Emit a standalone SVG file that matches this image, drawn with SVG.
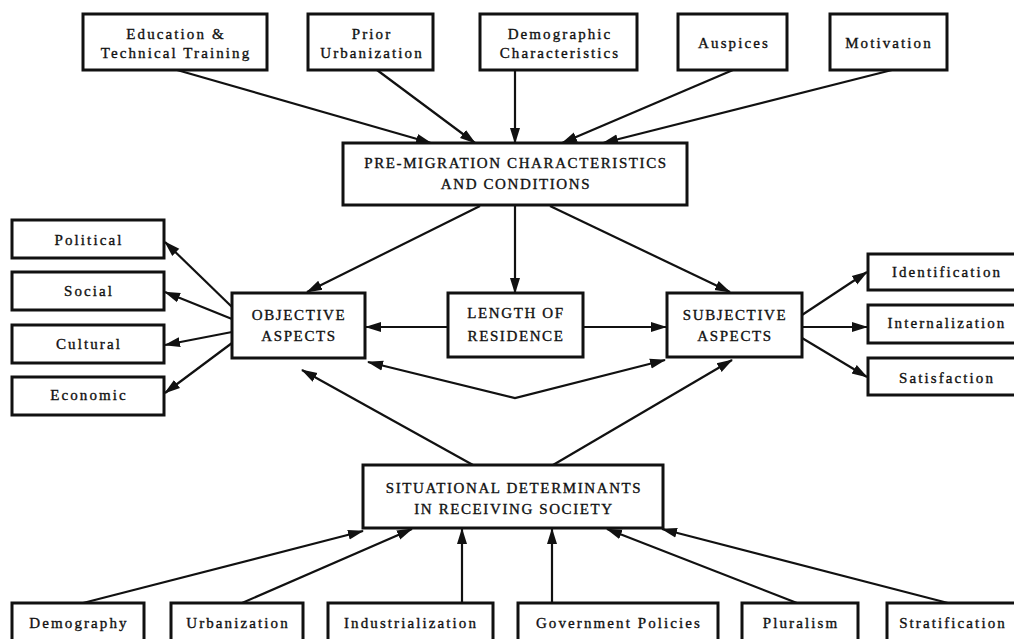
<svg xmlns="http://www.w3.org/2000/svg" width="1014" height="639" viewBox="0 0 1014 639">
<style>
.box{fill:#fff;stroke:#111;stroke-width:3}
.t{font-family:"Liberation Serif","DejaVu Serif",serif;font-size:15px;letter-spacing:2.1px;fill:#111;stroke:#111;stroke-width:0.35;text-anchor:middle}
.c{font-family:"Liberation Serif","DejaVu Serif",serif;font-size:15px;letter-spacing:1.6px;fill:#111;stroke:#111;stroke-width:0.35;text-anchor:middle}
.e{fill:none;stroke:#111;stroke-width:2.2}
</style>
<defs>
<marker id="ah" markerUnits="userSpaceOnUse" markerWidth="16" markerHeight="12" refX="15" refY="5" orient="auto-start-reverse" viewBox="0 0 16 10">
<path d="M0,0 L16,5 L0,10 Z" fill="#111"/>
</marker>
</defs>
<rect width="1014" height="639" fill="#fff"/>
<g id="connectors">
<line class="e" x1="177" y1="70" x2="431" y2="143" marker-end="url(#ah)"/>
<line class="e" x1="377" y1="70" x2="475" y2="143" marker-end="url(#ah)"/>
<line class="e" x1="515" y1="70" x2="515" y2="143" marker-end="url(#ah)"/>
<line class="e" x1="733" y1="70" x2="562" y2="143" marker-end="url(#ah)"/>
<line class="e" x1="892" y1="70" x2="603" y2="143" marker-end="url(#ah)"/>
<line class="e" x1="480" y1="206" x2="307" y2="292" marker-end="url(#ah)"/>
<line class="e" x1="515" y1="206" x2="515" y2="293" marker-end="url(#ah)"/>
<line class="e" x1="550" y1="206" x2="730" y2="292" marker-end="url(#ah)"/>
<line class="e" x1="448" y1="327" x2="366" y2="327" marker-end="url(#ah)"/>
<line class="e" x1="583" y1="327" x2="666" y2="327" marker-end="url(#ah)"/>
<line class="e" x1="232" y1="307" x2="165" y2="242" marker-end="url(#ah)"/>
<line class="e" x1="232" y1="319" x2="165" y2="292" marker-end="url(#ah)"/>
<line class="e" x1="232" y1="332" x2="165" y2="345" marker-end="url(#ah)"/>
<line class="e" x1="232" y1="343" x2="165" y2="393" marker-end="url(#ah)"/>
<line class="e" x1="802" y1="315" x2="867" y2="272" marker-end="url(#ah)"/>
<line class="e" x1="802" y1="327" x2="867" y2="327" marker-end="url(#ah)"/>
<line class="e" x1="802" y1="338" x2="867" y2="377" marker-end="url(#ah)"/>
<path class="e" d="M368,362 L515,398 L665,360" marker-start="url(#ah)" marker-end="url(#ah)"/>
<line class="e" x1="473" y1="465" x2="302" y2="370" marker-end="url(#ah)"/>
<line class="e" x1="553" y1="465" x2="732" y2="360" marker-end="url(#ah)"/>
<line class="e" x1="83" y1="603" x2="363" y2="531" marker-end="url(#ah)"/>
<line class="e" x1="242" y1="603" x2="412" y2="529" marker-end="url(#ah)"/>
<line class="e" x1="462" y1="603" x2="462" y2="529" marker-end="url(#ah)"/>
<line class="e" x1="552" y1="603" x2="552" y2="529" marker-end="url(#ah)"/>
<line class="e" x1="797" y1="603" x2="607" y2="529" marker-end="url(#ah)"/>
<line class="e" x1="948" y1="603" x2="662" y2="529" marker-end="url(#ah)"/>
</g>
<g id="edu"><rect class="box" x="83" y="14" width="184" height="56"/><text class="t" x="176" y="39">Education &amp;</text><text class="t" x="176" y="58">Technical Training</text></g>
<g id="prior"><rect class="box" x="308" y="14" width="125" height="56"/><text class="t" x="372" y="39">Prior</text><text class="t" x="372" y="58">Urbanization</text></g>
<g id="demo"><rect class="box" x="480" y="14" width="157" height="56"/><text class="t" x="560" y="39">Demographic</text><text class="t" x="560" y="58">Characteristics</text></g>
<g id="ausp"><rect class="box" x="678" y="14" width="109" height="56"/><text class="t" x="734" y="48">Auspices</text></g>
<g id="motiv"><rect class="box" x="830" y="14" width="117" height="56"/><text class="t" x="889" y="48">Motivation</text></g>
<g id="pre"><rect class="box" x="343" y="143" width="344" height="62"/><text class="c" x="516" y="168">PRE-MIGRATION CHARACTERISTICS</text><text class="c" x="516" y="189">AND CONDITIONS</text></g>
<g id="pol"><rect class="box" x="12" y="220" width="152" height="38"/><text class="t" x="89" y="245">Political</text></g>
<g id="soc"><rect class="box" x="12" y="272" width="152" height="38"/><text class="t" x="89" y="296">Social</text></g>
<g id="cul"><rect class="box" x="12" y="325" width="152" height="38"/><text class="t" x="89" y="349">Cultural</text></g>
<g id="eco"><rect class="box" x="12" y="377" width="152" height="38"/><text class="t" x="89" y="400">Economic</text></g>
<g id="obj"><rect class="box" x="232" y="293" width="133" height="65"/><text class="c" x="299" y="320">OBJECTIVE</text><text class="c" x="299" y="341">ASPECTS</text></g>
<g id="len"><rect class="box" x="448" y="293" width="135" height="64"/><text class="c" x="516" y="318">LENGTH OF</text><text class="c" x="516" y="341">RESIDENCE</text></g>
<g id="subj"><rect class="box" x="667" y="293" width="135" height="64"/><text class="c" x="735" y="320">SUBJECTIVE</text><text class="c" x="735" y="341">ASPECTS</text></g>
<g id="ident"><rect class="box" x="868" y="254" width="160" height="36"/><text class="t" x="947" y="277">Identification</text></g>
<g id="intern"><rect class="box" x="868" y="305" width="160" height="38"/><text class="t" x="947" y="328">Internalization</text></g>
<g id="satis"><rect class="box" x="868" y="358" width="160" height="37"/><text class="t" x="947" y="383">Satisfaction</text></g>
<g id="sit"><rect class="box" x="363" y="465" width="300" height="63"/><text class="c" x="514" y="493">SITUATIONAL DETERMINANTS</text><text class="c" x="514" y="514">IN RECEIVING SOCIETY</text></g>
<g id="demog"><rect class="box" x="12" y="603" width="132" height="50"/><text class="t" x="79" y="628">Demography</text></g>
<g id="urb"><rect class="box" x="171" y="603" width="132" height="50"/><text class="t" x="238" y="628">Urbanization</text></g>
<g id="ind"><rect class="box" x="328" y="603" width="165" height="50"/><text class="t" x="411" y="628">Industrialization</text></g>
<g id="gov"><rect class="box" x="518" y="603" width="200" height="50"/><text class="t" x="619" y="628">Government Policies</text></g>
<g id="plur"><rect class="box" x="742" y="603" width="116" height="50"/><text class="t" x="801" y="628">Pluralism</text></g>
<g id="strat"><rect class="box" x="887" y="603" width="140" height="50"/><text class="t" x="953" y="628">Stratification</text></g>
</svg>
